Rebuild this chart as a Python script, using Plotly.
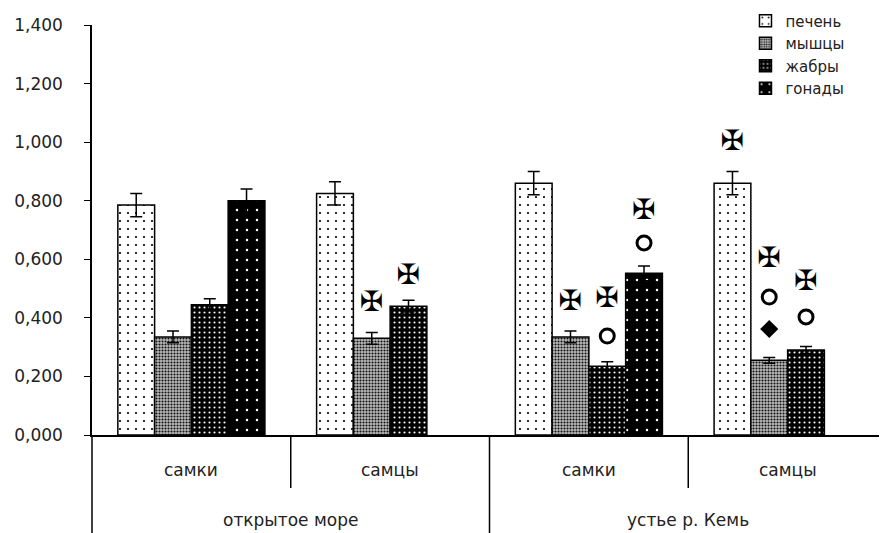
import plotly.graph_objects as go

regions = ["открытое море", "открытое море", "устье р. Кемь", "устье р. Кемь"]
sexes = ["самки", "самцы", "самки", "самцы"]
region_labels = ["открытое море", "устье р. Кемь"]

series = ["печень", "мышцы", "жабры", "гонады"]
values = {
    "печень": [0.785, 0.825, 0.860, 0.860],
    "мышцы": [0.335, 0.330, 0.335, 0.255],
    "жабры": [0.445, 0.440, 0.235, 0.290],
    "гонады": [0.800, None, 0.552, None],
}
errors = {
    "печень": [0.040, 0.040, 0.040, 0.040],
    "мышцы": [0.020, 0.020, 0.020, 0.010],
    "жабры": [0.020, 0.020, 0.015, 0.012],
    "гонады": [0.040, 0, 0.025, 0],
}

# significance marks: (series, group index, y)
crosses = [("печень", 3, 0.997), ("мышцы", 1, 0.447), ("мышцы", 2, 0.450), ("мышцы", 3, 0.598),
           ("жабры", 1, 0.540), ("жабры", 2, 0.462), ("жабры", 3, 0.519), ("гонады", 2, 0.763)]
circles = [("мышцы", 3, 0.471), ("жабры", 2, 0.338), ("жабры", 3, 0.403), ("гонады", 2, 0.656)]
diamonds = [("мышцы", 3, 0.362)]

patterns = {
    "печень": dict(shape=".", fgcolor="black", bgcolor="white", size=8, solidity=0.06, fillmode="replace"),
    "мышцы": dict(shape=".", fgcolor="#111111", bgcolor="#bbbbbb", size=3, solidity=0.4, fillmode="replace"),
    "жабры": dict(shape=".", fgcolor="white", bgcolor="black", size=5, solidity=0.14, fillmode="replace"),
    "гонады": dict(shape=".", fgcolor="white", bgcolor="black", size=10, solidity=0.05, fillmode="replace"),
}

FONT = "DejaVu Sans, Verdana, sans-serif"

fig = go.Figure()
for s in series:
    fig.add_trace(go.Bar(
        name=s, x=[regions, sexes], y=values[s], offsetgroup=s,
        marker=dict(color="white", pattern=patterns[s], line=dict(color="black", width=1.5)),
        error_y=dict(type="data", array=errors[s], color="black", thickness=1.5, width=6),
    ))

def mark_trace(items, s, **kw):
    pts = [it for it in items if it[0] == s]
    if not pts:
        return None
    return go.Scatter(
        x=[[regions[i] for _, i, _ in pts], [sexes[i] for _, i, _ in pts]],
        y=[y for _, _, y in pts], offsetgroup=s, showlegend=False, hoverinfo="skip", cliponaxis=False, **kw)

for s in series:
    t = mark_trace(crosses, s, mode="text", text=["✠"] * 8,
                   textfont=dict(size=28, color="black", family="DejaVu Sans"), textposition="middle center")
    if t: fig.add_trace(t)
    t = mark_trace(circles, s, mode="markers",
                   marker=dict(symbol="circle-open", size=14, color="black", line=dict(width=3)))
    if t: fig.add_trace(t)
    t = mark_trace(diamonds, s, mode="markers",
                   marker=dict(symbol="diamond", size=14, color="black"))
    if t: fig.add_trace(t)

shapes = []
for xd in [0, 0.5, 1]:
    shapes.append(dict(type="line", xref="x domain", yref="paper", x0=xd, x1=xd, y0=0, y1=-0.24,
                       line=dict(color="black", width=1.5)))
for xd in [0.25, 0.75]:
    shapes.append(dict(type="line", xref="x domain", yref="paper", x0=xd, x1=xd, y0=0, y1=-0.129,
                       line=dict(color="black", width=1.5)))

annotations = []
for i, lab in enumerate(sexes):
    annotations.append(dict(text=lab, xref="x domain", yref="paper", x=(i + 0.5) / len(sexes), y=-0.085,
                            showarrow=False, xanchor="center", yanchor="middle",
                            font=dict(family=FONT, size=17, color="#222222")))
for i, lab in enumerate(region_labels):
    annotations.append(dict(text=lab, xref="x domain", yref="paper", x=(i + 0.5) / len(region_labels), y=-0.207,
                            showarrow=False, xanchor="center", yanchor="middle",
                            font=dict(family=FONT, size=17, color="#222222")))

fig.update_layout(
    width=879, height=525,
    margin=dict(l=84, r=0, t=17, b=98, autoexpand=False),
    barmode="group", bargap=0.26, bargroupgap=0,
    scattermode="group", scattergap=0.26,
    plot_bgcolor="white", paper_bgcolor="white",
    separators=",.",
    font=dict(family=FONT, size=17, color="#222222"),
    legend=dict(x=0.822, y=1.05, xanchor="left", yanchor="top", bgcolor="rgba(0,0,0,0)",
                font=dict(size=15), itemwidth=30, tracegroupgap=0),
    yaxis=dict(range=[0, 1.4], dtick=0.2, tickformat=".3f", showgrid=False, zeroline=False,
               showline=True, linecolor="black", linewidth=1.5, ticks="outside", ticklen=6,
               tickcolor="black", automargin=False, ticklabelstandoff=18),
    xaxis=dict(type="multicategory", showline=True, linecolor="black", linewidth=1.5,
               showdividers=False, showticklabels=False, ticks="", automargin=False),
    shapes=shapes,
    annotations=annotations,
)
fig.write_html("out.html")
